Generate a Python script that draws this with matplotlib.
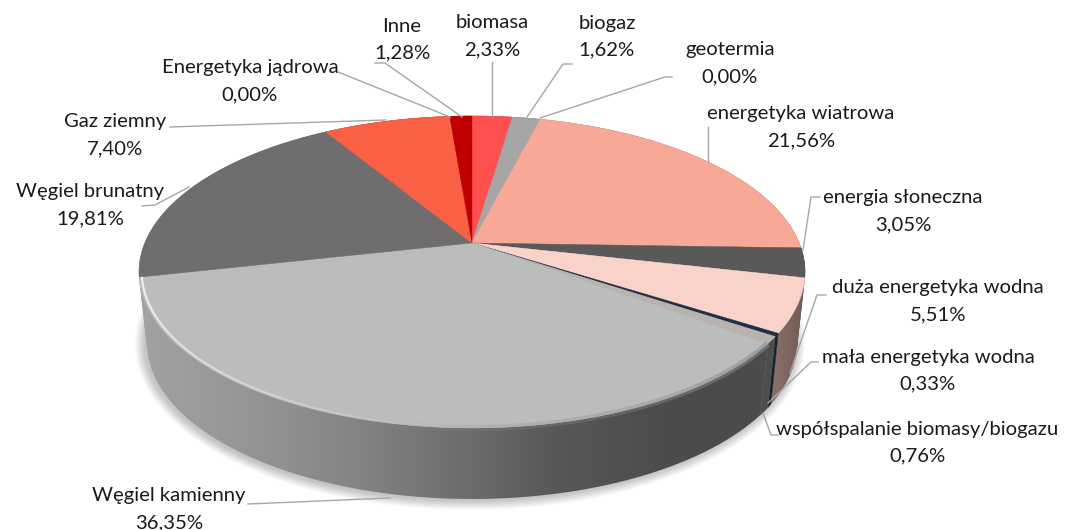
import numpy as np
import matplotlib
matplotlib.use('Agg')
import matplotlib.pyplot as plt
from matplotlib.collections import LineCollection
from matplotlib.colors import LinearSegmentedColormap
from matplotlib.patches import Polygon

plt.rcParams['font.family'] = ['Lato', 'DejaVu Sans']

# Slices clockwise from 12 o'clock
names = ['biomasa', 'biogaz', 'geotermia', 'energetyka wiatrowa', 'energia słoneczna',
         'duża energetyka wodna', 'mała energetyka wodna', 'współspalanie biomasy/biogazu',
         'Węgiel kamienny', 'Węgiel brunatny', 'Gaz ziemny', 'Energetyka jądrowa', 'Inne']
values = [2.33, 1.62, 0.00, 21.56, 3.05, 5.51, 0.33, 0.76, 36.35, 19.81, 7.40, 0.00, 1.28]
top_colors = ['#FF5050', '#A6A6A6', '#7F7F7F', '#F8A897', '#595959', '#F9D3CA', '#1F3044',
              '#B8B3AE', '#BBBDBC', '#6F6D6D', '#F96044', '#8F8F8F', '#C00000']
wall_colors = [['#993030'], ['#666666'], ['#555555'], ['#96655B'], ['#3A3A3A'],
               ['#8D7268', '#6E5A55'], ['#16222F'], ['#4C4E4E'],
               ['#A2A2A2', '#969696', '#858585', '#6E6F6F', '#565858', '#4B4D4D', '#4A4C4C'],
               ['#A2A2A2'], ['#96392A'], ['#555555'], ['#730000']]

# label centre (x, y of first line), then leader line points in pixels
label_pos = [(492, 23), (607, 23), (730, 50), (801, 114), (903, 198), (938, 288),
             (928, 357), (917, 429), (169, 496), (90, 192), (115, 122), (250, 68), (402, 26)]
leaders = [[(491.5, 62), (491.5, 116)],
           [(572, 64), (563, 64), (527, 117)],
           [(672, 77), (665, 77), (540, 118)],
           [(708, 127), (708, 161)],
           [(820, 197), (811, 197), (803, 250)],
           [(826, 295), (817, 295), (790, 373)],
           [(818, 362), (811, 362), (768, 403)],
           [(778, 435), (771, 435), (763, 413)],
           [(248, 504), (390, 498)],
           [(142, 206), (155, 205), (189, 187)],
           [(170, 127), (386, 120)],
           [(338, 72), (450, 117)],
           [(375, 63), (385, 63), (462, 117)]]

# ellipse of the tilted disc; PIE_P places the pie centre off the ellipse centre
CX, CY, RX, RY = 472, 272, 333, 156
BASE_CY, BASE_RX = 343, 325
PIE_P = 0.186


def disc_point(frac):
    # fraction of the pie -> point on the unit disc, with perspective
    a = np.asarray(frac) * 2 * np.pi
    s, c = np.sin(a), np.cos(a)
    den = 1 + PIE_P * c
    return s * np.sqrt(1 - PIE_P ** 2) / den, (c + PIE_P) / den


def top_xy(frac):
    x, y = disc_point(frac)
    return np.column_stack([CX + RX * x, CY - RY * y])


def base_xy(frac):
    x, y = disc_point(frac)
    return np.column_stack([CX + BASE_RX * x, BASE_CY - RY * y])


fig = plt.figure(figsize=(10.67, 5.30), dpi=100)
ax = fig.add_axes([0, 0, 1, 1])
ax.set_xlim(0, 1067)
ax.set_ylim(530, 0)
ax.axis('off')

edges = np.concatenate([[0], np.cumsum(values)]) / sum(values)

# soft shadow under the base
th = np.linspace(0, 2 * np.pi, 300)
for grow in range(1, 11):
    ax.fill(CX - 2 + (BASE_RX + grow) * np.cos(th), BASE_CY + 1 + (RY + grow) * np.sin(th),
            color='black', alpha=0.022, lw=0, zorder=1)

# side wall, slice by slice
for i in range(len(values)):
    if values[i] == 0:
        continue
    f = np.linspace(edges[i], edges[i + 1], 80)
    t, b = top_xy(f), base_xy(f)
    pts = np.vstack([t, b[::-1]])
    cols = wall_colors[i]
    if len(cols) == 1:
        ax.fill(pts[:, 0], pts[:, 1], color=cols[0], lw=0.3, zorder=2)
    else:
        cmap = LinearSegmentedColormap.from_list('wall', cols)
        x0, x1 = pts[:, 0].min(), pts[:, 0].max()
        y0, y1 = pts[:, 1].min(), pts[:, 1].max()
        im = ax.imshow(np.linspace(0, 1, 256)[None, :], cmap=cmap, aspect='auto',
                       extent=(x0, x1, y1, y0), zorder=2)
        im.set_clip_path(Polygon(pts, closed=True, transform=ax.transData))
ax.set_xlim(0, 1067)
ax.set_ylim(530, 0)

# top face
centre = np.array([CX, CY - RY * PIE_P])
for i in range(len(values)):
    if values[i] == 0:
        continue
    f = np.linspace(edges[i], edges[i + 1], 80)
    pts = np.vstack([centre, top_xy(f)])
    ax.fill(pts[:, 0], pts[:, 1], color=top_colors[i], lw=0.3, zorder=3)

# bevel along the front edge of the largest slice, w runs from right to left
k = int(np.argmax(values))
f = np.linspace(edges[k], edges[k + 1], 200)
p = top_xy(f)
seg = np.stack([p[:-1], p[1:]], axis=1)
w = np.linspace(0, 1, len(seg))
soft = [(0.54, 0.55, 0.55, float(0.6 * np.clip(1 - v / 0.6, 0, 1))) for v in w]
ax.add_collection(LineCollection(seg, colors=soft, linewidths=4.5, zorder=4))
hi = [(1, 1, 1, float(0.85 * np.clip((v - 0.35) / 0.65, 0, 1) ** 1.3)) for v in w]
inner = centre + (seg - centre) * 0.992
ax.add_collection(LineCollection(inner, colors=hi, linewidths=1.6, zorder=5))

# leader lines and labels
for pts in leaders:
    xs, ys = zip(*pts)
    ax.plot(xs, ys, color='#A6A6A6', lw=1.0, zorder=6)

for name, v, (x, y) in zip(names, values, label_pos):
    ax.text(x, y, name, ha='center', va='center', fontsize=14.6, color='#1A1A1A', zorder=7)
    pct = f'{v:.2f}'.replace('.', ',') + '%'
    ax.text(x, y + 27, pct, ha='center', va='center', fontsize=14.6, color='#1A1A1A', zorder=7)

fig.savefig('out.png', dpi=100)
plt.close(fig)
